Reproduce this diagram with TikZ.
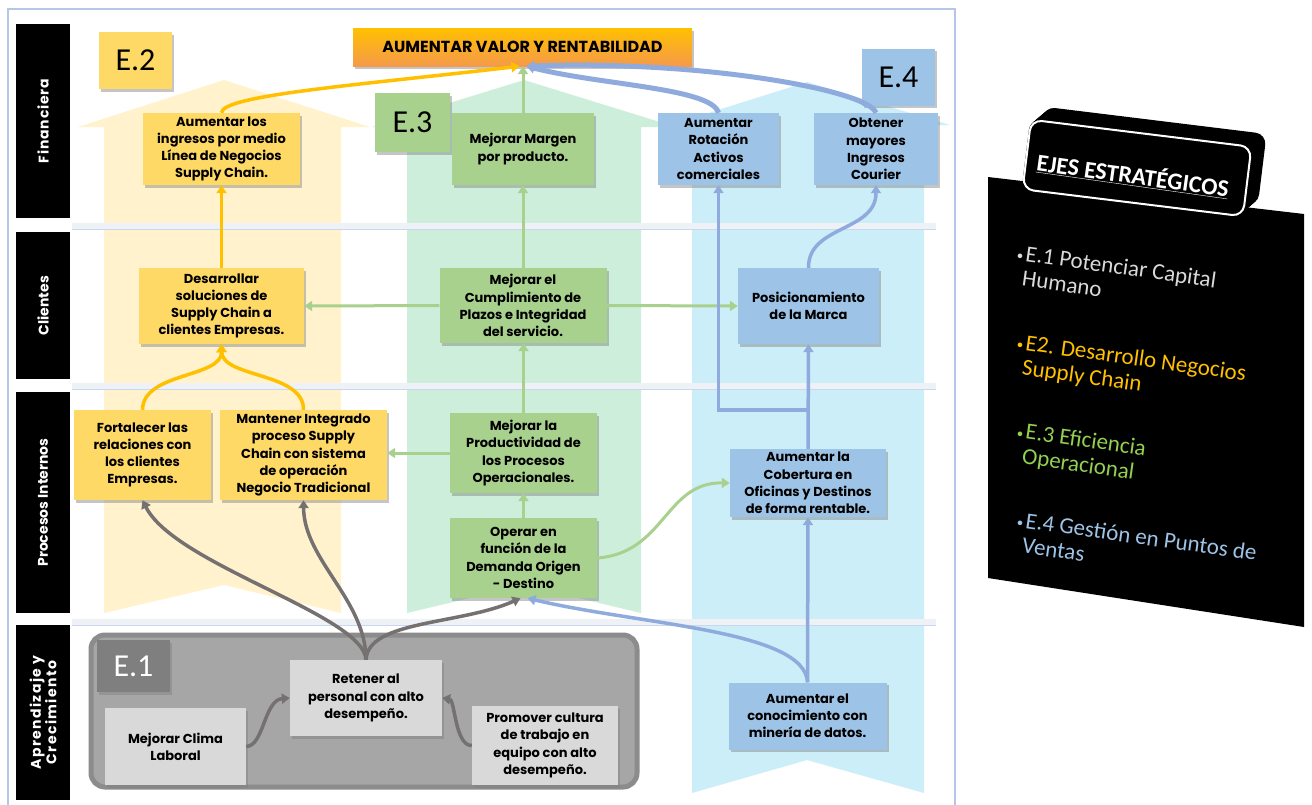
\documentclass[tikz,border=0pt]{standalone}
\usepackage{fontspec}
\newfontfamily\gothic{Poppins}
\newfontfamily\calib{Carlito}
\usetikzlibrary{shadows,arrows.meta}
\definecolor{ybox}{HTML}{FFD966}
\definecolor{gbox}{HTML}{A9D18E}
\definecolor{bbox}{HTML}{9DC3E6}
\definecolor{kbox}{HTML}{D9D9D9}
\definecolor{ybg}{HTML}{FFF2CC}
\definecolor{gbg}{HTML}{CCEEDB}
\definecolor{bbg}{HTML}{CCEEF9}
\definecolor{yln}{HTML}{FFC000}
\definecolor{gln}{HTML}{A9D18E}
\definecolor{bln}{HTML}{8FAADC}
\definecolor{kln}{HTML}{767171}
\definecolor{framec}{HTML}{B4C7E7}
\definecolor{sepc}{HTML}{EEF2F7}
\definecolor{e1bg}{HTML}{A6A6A6}
\definecolor{e1bd}{HTML}{8C8C8C}
\definecolor{e1lab}{HTML}{7F7F7F}
\definecolor{txtA}{HTML}{D9D9D9}
\definecolor{txtB}{HTML}{FFC000}
\definecolor{txtC}{HTML}{92D050}
\definecolor{txtD}{HTML}{9DC3E6}
\definecolor{titA}{HTML}{FFC000}
\definecolor{titB}{HTML}{F59A4A}
\begin{document}
\begin{tikzpicture}[x=1pt,y=-1pt,
  box/.style={align=center, inner sep=2pt, font=\gothic\bfseries\fontsize{13}{17.2}\selectfont,
    drop shadow={shadow xshift=2pt, shadow yshift=-2.5pt, opacity=0.45}},
  elab/.style={font=\calib\fontsize{32}{32}\selectfont, inner sep=0pt,
    drop shadow={shadow xshift=2pt, shadow yshift=-2.5pt, opacity=0.45}},
  rowlab/.style={fill=black, text=white, rotate=90, align=center, inner sep=0pt,
    font=\gothic\bfseries\fontsize{14}{15.5}\selectfont},
  tip/.style={-{Triangle[length=8pt,width=10pt]}},
  yl/.style={draw=yln, line width=3.5pt, tip},
  gl/.style={draw=gln, line width=3pt, tip},
  bl/.style={draw=bln, line width=3.5pt, tip},
  kl/.style={draw=kln, line width=3.5pt, tip},
  item/.style={anchor=north west, rotate=-8, align=left, inner sep=0pt,
    font=\calib\fontsize{23}{25}\selectfont}
]
\useasboundingbox (0,0) rectangle (1312,804);
\fill[white] (0,0) rectangle (1312,804);
% frame
\draw[framec, line width=1.5pt] (8,806) -- (8,9) -- (955,9) -- (955,806);
% column arrows
\fill[ybg] (104,613) -- (104,127) -- (78,127) -- (224,80) -- (370,127) -- (341,127) -- (341,613) -- (224,585) -- cycle;
\fill[gbg] (407,613) -- (407,127) -- (372,127) -- (524,80) -- (676,127) -- (641,127) -- (641,613) -- (524,585) -- cycle;
\fill[bbg] (692,793) -- (692,127) -- (664,127) -- (807,82) -- (950,125) -- (924,125) -- (924,793) -- (807,760) -- cycle;
% separators
\foreach \yy in {226,386,622} {
  \fill[sepc] (72,\yy-3) rectangle (936,\yy+3);
  \draw[framec!70, line width=0.7pt] (72,\yy+3) -- (936,\yy+3);
}
% row labels
\node[rowlab, minimum width=194pt, minimum height=54pt] (R1) at (43,121) {\addfontfeatures{LetterSpace=6}Financiera};
\node[rowlab, minimum width=147pt, minimum height=54pt] (R2) at (43,305.5) {Clientes};
\node[rowlab, minimum width=221pt, minimum height=54pt] (R3) at (43,502.5) {Procesos Internos};
\node[rowlab, minimum width=175pt, minimum height=54pt] (R4) at (43,712.5) {\addfontfeatures{LetterSpace=10}Aprendizaje y\\\addfontfeatures{LetterSpace=10}Crecimiento};
% E.1 group
\node[draw=e1bd, line width=5pt, fill=e1bg, rounded corners=14pt, minimum width=546pt, minimum height=152pt] (G1) at (364,711) {};
% title
\node[top color=titA, bottom color=titB, minimum width=339pt, minimum height=38pt, inner sep=0pt,
  font=\gothic\bfseries\fontsize{16}{17}\selectfont,
  drop shadow={shadow xshift=2pt, shadow yshift=-2.5pt, opacity=0.45}] (T) at (522.5,47) {AUMENTAR VALOR Y RENTABILIDAD};
% E labels
\node[elab, fill=ybox, minimum width=73pt, minimum height=57pt] (E2) at (135.5,60.5) {E.2};
\node[elab, fill=gbox, minimum width=75pt, minimum height=59pt] (E3) at (412.5,122.5) {E.3};
\node[elab, fill=bbox, minimum width=73pt, minimum height=57pt] (E4) at (898.5,77) {E.4};
\node[elab, fill=e1lab, text=white, minimum width=73pt, minimum height=52pt] (E1) at (133.5,666) {E.1};
% Financiera
\node[box, fill=ybox, minimum width=157pt, minimum height=72pt] (F2) at (221.5,149) {Aumentar los\\ingresos por medio\\Línea de Negocios\\Supply Chain.};
\node[box, fill=gbox, minimum width=142pt, minimum height=72pt] (F3) at (523,149) {Mejorar Margen\\por producto.};
\node[box, fill=bbox, minimum width=121pt, minimum height=72pt] (F4a) at (718.5,149) {Aumentar\\Rotación\\Activos\\comerciales};
\node[box, fill=bbox, minimum width=124pt, minimum height=72pt] (F4b) at (876,149) {Obtener\\mayores\\Ingresos\\Courier};
% Clientes
\node[box, fill=ybox, minimum width=165pt, minimum height=76pt] (C2) at (221.5,306) {Desarrollar\\soluciones de\\Supply Chain a\\clientes Empresas.};
\node[box, fill=gbox, minimum width=167pt, minimum height=75pt] (C3) at (523,305.5) {Mejorar el\\Cumplimiento de\\Plazos e Integridad\\del servicio.};
\node[box, fill=bbox, minimum width=141pt, minimum height=76pt] (C4) at (808.5,306) {Posicionamiento\\de la Marca};
% Procesos
\node[box, fill=ybox, minimum width=137pt, minimum height=90pt] (P2a) at (142.5,455) {Fortalecer las\\relaciones con\\los clientes\\Empresas.};
\node[box, fill=ybox, minimum width=167pt, minimum height=90pt] (P2b) at (303.5,455) {Mantener Integrado\\proceso Supply\\Chain con sistema\\de operación\\Negocio Tradicional};
\node[box, fill=gbox, minimum width=147pt, minimum height=80pt] (P3a) at (523.5,453) {Mejorar la\\Productividad de\\los Procesos\\Operacionales.};
\node[box, fill=gbox, minimum width=147pt, minimum height=80pt] (P3b) at (523.5,558) {Operar en\\función de la\\Demanda Origen\\- Destino};
\node[box, fill=bbox, minimum width=156pt, minimum height=68pt] (P4) at (808,483) {Aumentar la\\Cobertura en\\Oficinas y Destinos\\de forma rentable.};
% Aprendizaje
\node[box, fill=kbox, minimum width=141pt, minimum height=77pt] (A1) at (175.5,746.5) {Mejorar Clima\\Laboral};
\node[box, fill=kbox, minimum width=152pt, minimum height=76pt] (A2) at (366,698) {Retener al\\personal con alto\\desempeño.};
\node[box, fill=kbox, minimum width=146pt, minimum height=79pt] (A3) at (545,745.5) {Promover cultura\\de trabajo en\\equipo con alto\\desempeño.};
\node[box, fill=bbox, minimum width=158pt, minimum height=67pt] (A4) at (807.5,716) {Aumentar el\\conocimiento con\\minería de datos.};
% yellow connectors
\draw[yl] (F2.north) .. controls (222,95) and (360,85) .. ([xshift=-3pt]T.south);
\draw[yl] (C2.north) -- (F2.south);
\draw[yl] (P2a.north) .. controls (143,372) and (222,378) .. (C2.south);
\draw[yl] (P2b.north) .. controls (304,372) and (222,378) .. (C2.south);
% green connectors
\draw[gl] (F3.north) -- (F3.north |- T.south);
\draw[gl] (C3.north) -- (C3.north |- F3.south);
\draw[gl] (C3.west) -- (C2.east);
\draw[gl] (C3.east) -- (C4.west);
\draw[gl] (P3a.north) -- (P3a.north |- C3.south);
\draw[gl] (P3a.west) -- (P3a.west -| P2b.east);
\draw[gl] (P3b.north) -- (P3a.south);
\draw[gl] (P3b.east) .. controls (665,553) and (665,482) .. (P4.west);
% blue connectors
\draw[bl, line width=5pt] (F4a.north) .. controls (712,88) and (600,85) .. ([xshift=4pt]T.south);
\draw[bl, line width=5pt] (F4b.north) .. controls (868,90) and (700,60) .. ([xshift=4pt]T.south);
\draw[bl] (C4.north) .. controls (808,225) and (876,232) .. (F4b.south);
\draw[bl] (P4.north) -- (C4.south);
\coordinate (J) at (808,410);
\draw[bl] (J) -| (F4a.south);
\draw[bl] (A4.north) -- (P4.south);
\draw[bl] (A4.north) .. controls (805,630) and (640,625) .. ([xshift=4pt]P3b.south);
% gray connectors
\draw[kl] (A2.north) .. controls (364,615) and (175,565) .. (P2a.south);
\draw[kl] (A2.north) .. controls (366,600) and (304,560) .. (P2b.south);
\draw[kl] (A2.north) .. controls (368,620) and (460,625) .. ([xshift=-3pt]P3b.south);
\draw[kl] (A1.east) .. controls (264,746) and (264,700) .. (A2.west);
\draw[kl] (A3.west) .. controls (455,746) and (455,700) .. (A2.east);
% right panel
\fill[black] (988,177) -- (1304,214) -- (1304,627) -- (988,578) -- cycle;
\foreach \i in {0,...,14} {
  \fill[black, rounded corners=11pt, rotate around={-7:(1137+\i,168-0.85*\i)}] (1137+\i-112,168-0.85*\i-36) rectangle (1137+\i+112,168-0.85*\i+36);
}
\node[draw=white, line width=2pt, fill=black, rounded corners=11pt, minimum width=222pt, minimum height=70pt, rotate=-7] (EJ) at (1137,168) {};
\node[text=white, rotate=-8, font=\calib\bfseries\fontsize{24}{24}\selectfont] (EJT) at (1133,175) {\underline{EJES ESTRATÉGICOS}};
\node[item, text=txtA] (I1) at (1027,245) {\llap{\fontsize{13}{13}\selectfont•\,}E.1 Potenciar Capital\\Humano};
\node[item, text=txtB] (I2) at (1027,334) {\llap{\fontsize{13}{13}\selectfont•\,}E2. Desarrollo Negocios\\Supply Chain};
\node[item, text=txtC] (I3) at (1027,423) {\llap{\fontsize{13}{13}\selectfont•\,}E.3 Eficiencia\\Operacional};
\node[item, text=txtD] (I4) at (1027,512) {\llap{\fontsize{13}{13}\selectfont•\,}E.4 Gestión en Puntos de\\Ventas};
\end{tikzpicture}
\end{document}
